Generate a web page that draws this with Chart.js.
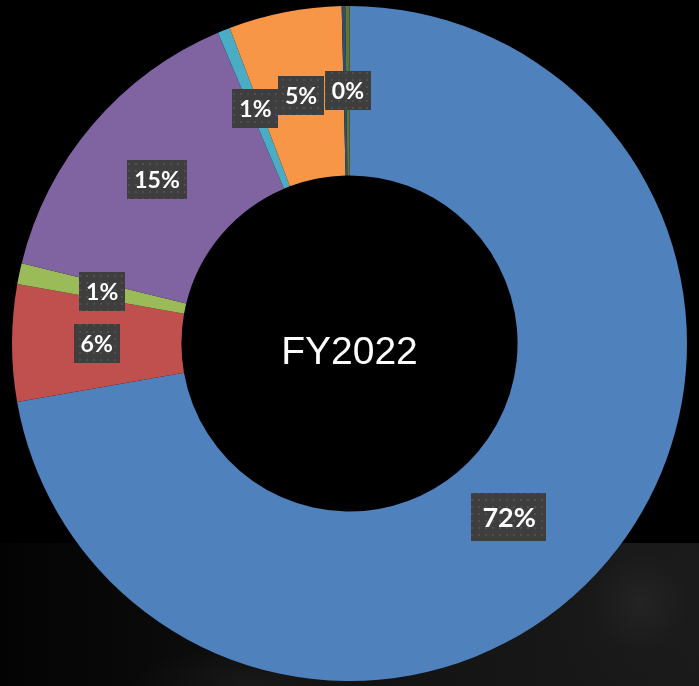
<!DOCTYPE html>
<html lang="en">
<head>
    <meta charset="UTF-8">
    <title>FY2022</title>
    <script src="https://cdn.jsdelivr.net/npm/chart.js"></script>
    <style>
        html, body { margin: 0; padding: 0; background: #000; }
        #wrap { position: relative; width: 699px; height: 686px; overflow: hidden; background: #000; }
        #fondo {
            position: absolute; left: 0; top: 543px; width: 699px; height: 143px;
            background:
                radial-gradient(circle at 640px 60px, rgba(60,60,60,0.3) 0, rgba(30,30,30,0.15) 50px, rgba(0,0,0,0) 100px),
                radial-gradient(ellipse at 250px 140px, rgba(50,50,50,0.3) 0, rgba(0,0,0,0) 120px),
                linear-gradient(to right, #030303 0%, #0c0c0c 30%, #141414 60%, #1a1a1a 100%);
        }
        #grafico { position: absolute; left: 0; top: 0; }
    </style>
</head>
<body>
<div id="wrap">
    <div id="fondo"></div>
    <canvas id="grafico" width="699" height="686"></canvas>
</div>

<script>
    // dati (percentuali, in senso orario dalle ore 12)
    const categorie = ['A', 'B', 'C', 'D', 'E', 'F', 'G', 'H'];
    const valori = [72.2, 5.6, 1.0, 14.8, 0.6, 5.4, 0.17, 0.2];
    const etichette = ['72%', '6%', '1%', '15%', '1%', '5%', '', '0%'];
    const colori = ['#4F81BD', '#C0504D', '#9BBB59', '#8064A2', '#4BACC6', '#F79646', '#2C4D75', '#5F7530'];
    const titoloCentro = 'FY2022';

    // trama a puntini per i riquadri delle etichette
    function creaTrama() {
        const c = document.createElement('canvas');
        c.width = 7; c.height = 7;
        const g = c.getContext('2d');
        g.fillStyle = '#3e3e3e';
        g.fillRect(0, 0, 7, 7);
        g.fillStyle = '#4f4f4f';
        g.fillRect(2, 2, 2, 2);
        return c;
    }

    const pluginEtichette = {
        id: 'etichette',
        afterDatasetsDraw(chart, args, opts) {
            const ctx = chart.ctx;
            const meta = chart.getDatasetMeta(0);
            const trama = ctx.createPattern(creaTrama(), 'repeat');
            meta.data.forEach((arc, i) => {
                const testo = etichette[i];
                if (!testo) return;
                const p = arc.tooltipPosition();
                const sp = opts.spostamenti[i] || [0, 0];
                const grande = i === opts.grande;
                const size = grande ? 27 : 23;
                const padX = grande ? 11 : 7;
                const h = grande ? 48 : 39;
                ctx.save();
                ctx.font = 'bold ' + size + 'px Lato, "Open Sans", sans-serif';
                const w = ctx.measureText(testo).width + padX * 2;
                const x = p.x + sp[0], y = p.y + sp[1];
                ctx.fillStyle = trama;
                ctx.fillRect(Math.round(x - w / 2), Math.round(y - h / 2), Math.round(w), h);
                ctx.fillStyle = '#ffffff';
                ctx.textAlign = 'center';
                ctx.textBaseline = 'middle';
                ctx.fillText(testo, x, y + 1);
                ctx.restore();
            });
        },
        afterDraw(chart) {
            const arc = chart.getDatasetMeta(0).data[0];
            const ctx = chart.ctx;
            ctx.save();
            ctx.font = '39px "Liberation Sans", Arial, sans-serif';
            ctx.fillStyle = '#ffffff';
            ctx.textAlign = 'center';
            ctx.textBaseline = 'alphabetic';
            ctx.fillText(titoloCentro, arc.x, arc.y + 20);
            ctx.restore();
        }
    };

    const ctx = document.getElementById('grafico').getContext('2d');
    const chart = new Chart(ctx, {
        type: 'doughnut',
        data: {
            labels: categorie,
            datasets: [{
                data: valori,
                backgroundColor: colori,
                borderWidth: 0,
                hoverOffset: 0,
                offset: 0
            }]
        },
        options: {
            responsive: false,
            animation: false,
            cutout: '49.8%',
            layout: { padding: { left: 12, right: 12, top: 6, bottom: 5 } },
            plugins: {
                legend: { display: false },
                tooltip: { enabled: false },
                etichette: { grande: 0, spostamenti: { 0: [-34, 11] } }
            }
        },
        plugins: [pluginEtichette]
    });
</script>
</body>
</html>
